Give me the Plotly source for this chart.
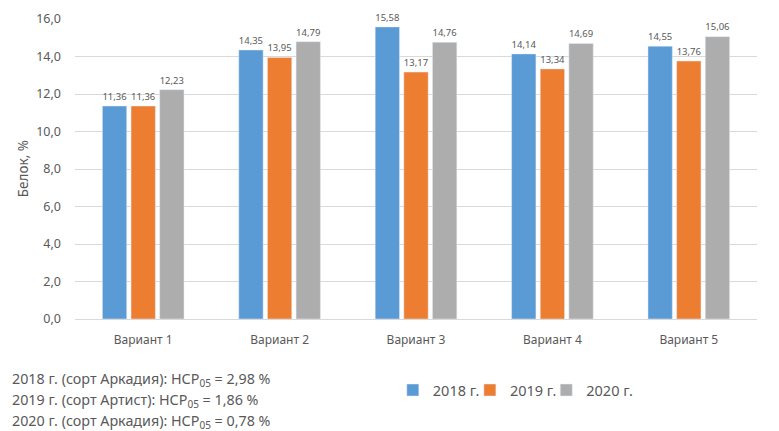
import plotly.graph_objects as go

categories = ["Вариант 1", "Вариант 2", "Вариант 3", "Вариант 4", "Вариант 5"]
protein_2018 = [11.36, 14.35, 15.58, 14.14, 14.55]
protein_2019 = [11.36, 13.95, 13.17, 13.34, 13.76]
protein_2020 = [12.23, 14.79, 14.76, 14.69, 15.06]
series_names = ["2018 г.", "2019 г.", "2020 г."]
tick_vals = [0, 2, 4, 6, 8, 10, 12, 14, 16]
tick_text = ["0,0", "2,0", "4,0", "6,0", "8,0", "10,0", "12,0", "14,0", "16,0"]
lsd_lines = [
    "2018 г. (сорт Аркадия): НСР<sub>05</sub> = 2,98 %",
    "2019 г. (сорт Артист): НСР<sub>05</sub> = 1,86 %",
    "2020 г. (сорт Аркадия): НСР<sub>05</sub> = 0,78 %",
]

colors = ["#5B9BD5", "#ED7D31", "#ADADAD"]
text_color = "#595959"
font_family = "Noto Sans, Open Sans, sans-serif"

# one small legend per series so the entries sit close together like in Excel
legend_ids = ["legend", "legend2", "legend3"]
legend_x = [0.466, 0.579, 0.691]

fig = go.Figure()
for name, vals, col, lg in zip(series_names, [protein_2018, protein_2019, protein_2020], colors, legend_ids):
    fig.add_trace(
        go.Bar(
            x=categories,
            y=vals,
            name=name,
            marker=dict(color=col),
            text=[f"{v:.2f}".replace(".", ",") for v in vals],
            textposition="outside",
            textfont=dict(color=text_color, size=12),
            cliponaxis=False,
            legend=lg,
            showlegend=True,
        )
    )

# НСР notes in the bottom-left corner
for i, line in enumerate(lsd_lines):
    fig.add_annotation(
        xref="paper", yref="paper",
        x=-0.096, y=-0.2 - i * 0.071,
        xanchor="left", yanchor="middle",
        text=line, showarrow=False,
        font=dict(color=text_color, size=14.3),
    )

# y axis title
fig.add_annotation(
    xref="paper", yref="paper",
    x=-0.076, y=0.5,
    xanchor="center", yanchor="middle",
    text="Белок, %", textangle=-90, showarrow=False,
    font=dict(color=text_color, size=13.5),
)

legend_style = dict(
    orientation="h", y=-0.237,
    xanchor="left", yanchor="middle",
    font=dict(size=14.5), bgcolor="rgba(0,0,0,0)",
)

# page body has an 8px margin, so the figure is a bit smaller than the window
fig.update_layout(
    width=771,
    height=423,
    showlegend=True,
    barmode="group",
    bargap=0.37,
    bargroupgap=0.15,
    plot_bgcolor="white",
    paper_bgcolor="white",
    font=dict(family=font_family, color=text_color, size=12),
    margin=dict(l=67, r=22, t=11, b=112),
    xaxis=dict(
        showline=True, linecolor="#D9D9D9", ticks="",
        tickfont=dict(size=12), automargin=False, ticklabelstandoff=10,
    ),
    yaxis=dict(
        range=[0, 16],
        tickmode="array",
        tickvals=tick_vals,
        ticktext=tick_text,
        showgrid=True,
        gridcolor="#D9D9D9",
        zeroline=False,
        tickfont=dict(size=12.5),
        automargin=False,
        ticklabelstandoff=13,
    ),
    legend=dict(x=legend_x[0], **legend_style),
    legend2=dict(x=legend_x[1], **legend_style),
    legend3=dict(x=legend_x[2], **legend_style),
)

fig.write_html("out.html")
